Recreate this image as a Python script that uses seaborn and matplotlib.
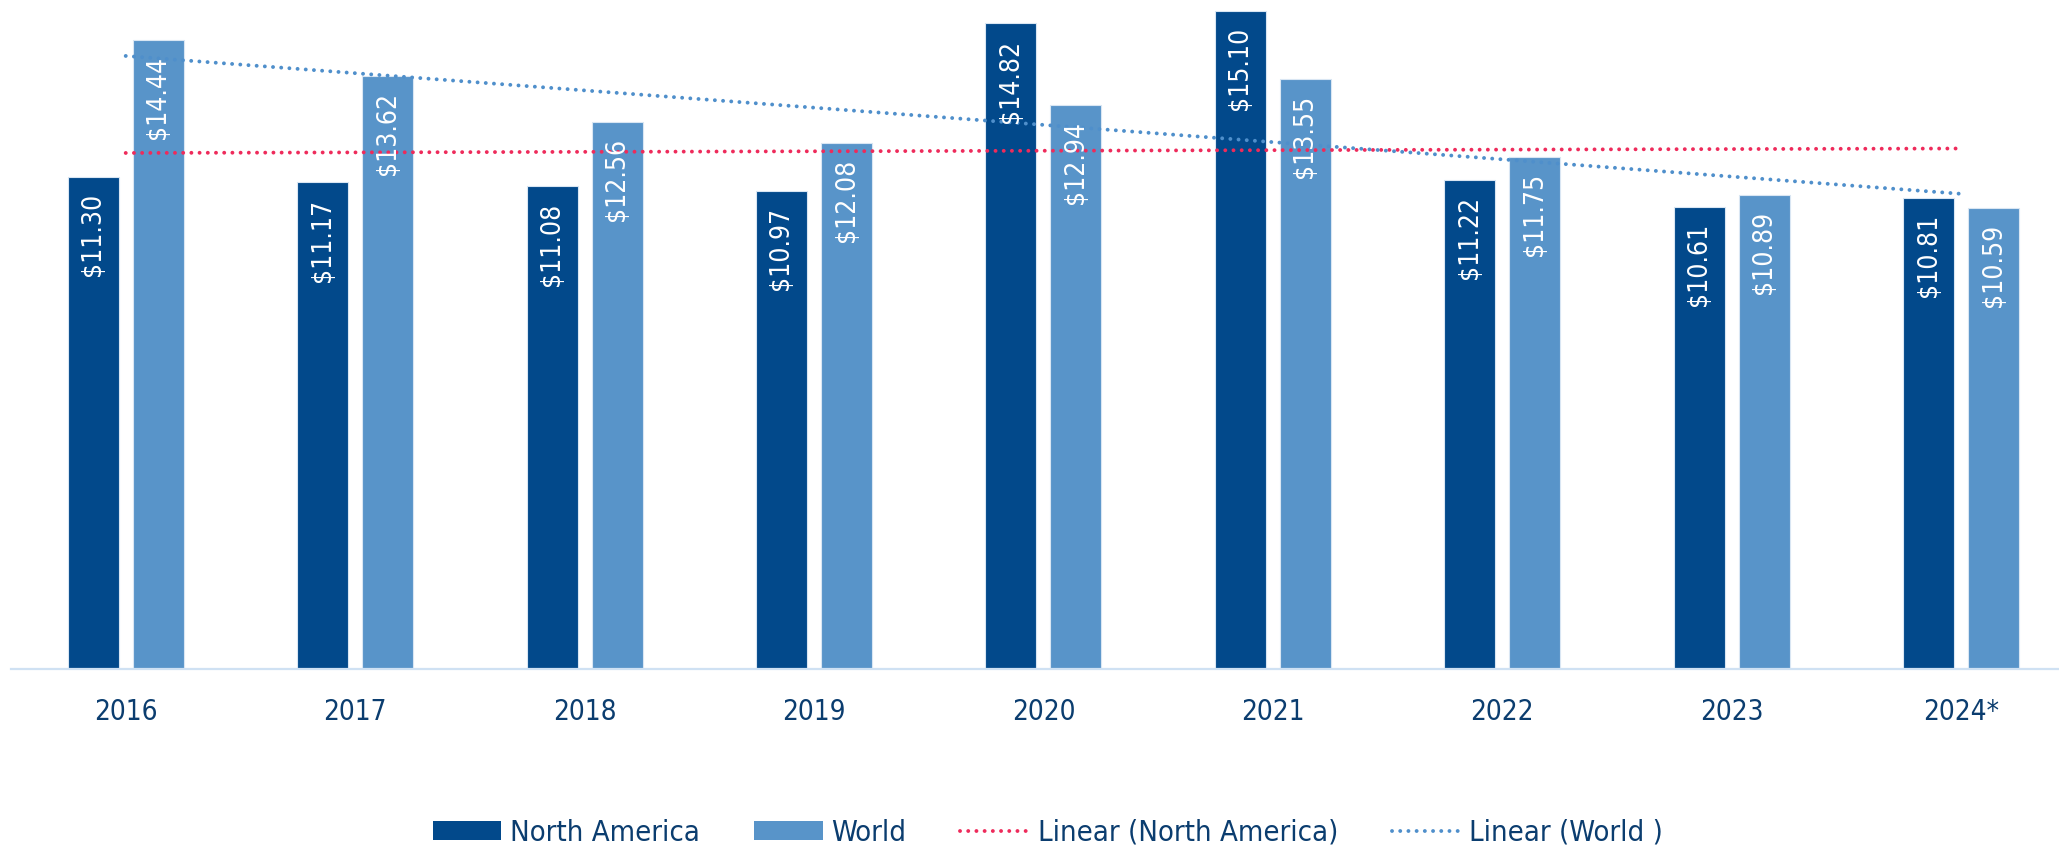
import numpy as np
import pandas as pd
import matplotlib
matplotlib.use("Agg")
import matplotlib.pyplot as plt
from matplotlib import font_manager
from matplotlib.patches import Patch
from matplotlib.lines import Line2D
import seaborn as sns

# Average price per year, two regions
years = ["2016", "2017", "2018", "2019", "2020", "2021", "2022", "2023", "2024*"]
north_america = [11.30, 11.17, 11.08, 10.97, 14.82, 15.10, 11.22, 10.61, 10.81]
world = [14.44, 13.62, 12.56, 12.08, 12.94, 13.55, 11.75, 10.89, 10.59]
regions = ["North America", "World"]

NA_COLOR = "#02498b"
WORLD_COLOR = "#5894c9"
NA_TREND = "#ee2b5b"
WORLD_TREND = "#4f8fcb"
TEXT_COLOR = "#0b3d6f"
AXIS_COLOR = "#cfe1f3"
DOTS = (0, (0.01, 2.1))

sns.set_style("white")
available = {f.name for f in font_manager.fontManager.ttflist}
if "Liberation Sans Narrow" in available:
    plt.rcParams["font.family"] = ["Liberation Sans Narrow", "DejaVu Sans"]
else:
    plt.rcParams["font.family"] = ["DejaVu Sans"]
    plt.rcParams["font.stretch"] = "condensed"

df = pd.DataFrame({
    "Year": years * 2,
    "Value": north_america + world,
    "Region": [regions[0]] * len(years) + [regions[1]] * len(years),
})

fig = plt.figure(figsize=(20.59, 8.48), dpi=100)
ax = fig.add_axes([11 / 2059, 179 / 848, 2048 / 2059, 669 / 848])

sns.barplot(
    data=df, x="Year", y="Value", hue="Region", order=years, hue_order=regions,
    palette=[NA_COLOR, WORLD_COLOR], saturation=1, width=0.567, gap=0.216,
    legend=False, edgecolor="#d9e6f3", linewidth=0.8, ax=ax, zorder=2,
)

# Linear trendlines fitted over the category index
xs = np.arange(len(years))
for vals, col in [(north_america, NA_TREND), (world, WORLD_TREND)]:
    slope, intercept = np.polyfit(xs, vals, 1)
    ax.plot(xs, slope * xs + intercept, color=col, lw=2.8,
            linestyle=DOTS, dash_capstyle="round", zorder=3)

# Value labels inside the top of each bar
for container in ax.containers:
    for bar in container:
        h = bar.get_height()
        ax.annotate(f"${h:.2f}", xy=(bar.get_x() + bar.get_width() / 2, h),
                    xytext=(0, -11.5), textcoords="offset points",
                    rotation=90, ha="center", va="top", color="white",
                    fontsize=19, zorder=4)

ax.set_xlim(-0.5, (2059 - 126) / 229.4)
ax.set_ylim(0, 669 / 43.56)
ax.set_xlabel("")
ax.set_ylabel("")
ax.set_yticks([])
for side in ["left", "right", "top"]:
    ax.spines[side].set_visible(False)
ax.spines["bottom"].set_color(AXIS_COLOR)
ax.spines["bottom"].set_linewidth(1.6)
ax.tick_params(axis="x", length=0, pad=21, labelsize=20, labelcolor=TEXT_COLOR)

handles = [
    Patch(facecolor=NA_COLOR, edgecolor="none"),
    Patch(facecolor=WORLD_COLOR, edgecolor="none"),
    Line2D([0], [0], color=NA_TREND, lw=2.8, linestyle=DOTS,
           dash_capstyle="round"),
    Line2D([0], [0], color=WORLD_TREND, lw=2.8, linestyle=DOTS,
           dash_capstyle="round"),
]
labels = ["North America", "World", "Linear (North America)", "Linear (World )"]
leg = fig.legend(handles, labels, loc="center", bbox_to_anchor=(0.509, 0.0177),
                 ncol=4, frameon=False, fontsize=21, handlelength=2.35,
                 handleheight=0.62, handletextpad=0.3, columnspacing=1.85,
                 borderpad=0)
for t in leg.get_texts():
    t.set_color(TEXT_COLOR)

fig.savefig("out.png", dpi=100)
